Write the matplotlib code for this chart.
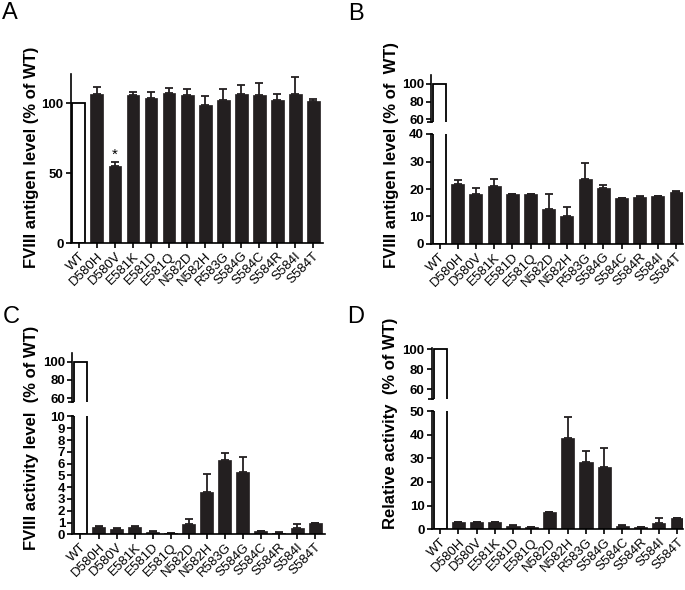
import matplotlib
matplotlib.use("Agg")
import matplotlib.pyplot as plt
import numpy as np

plt.rcParams["font.family"] = ["Liberation Sans", "DejaVu Sans"]

mutants = ["WT", "D580H", "D580V", "E581K", "E581D", "E581Q", "N582D",
           "N582H", "R583G", "S584G", "S584C", "S584R", "S584I", "S584T"]

# A: antigen level (% of WT), mean and upper error
antigen_a = [100, 106.4, 55.0, 105.8, 103.8, 107.3, 105.7, 98.6, 102.4,
             106.8, 106.2, 102.2, 106.4, 101.4]
antigen_a_err = [0, 5.3, 3.0, 2.5, 4.5, 4.0, 4.8, 6.8, 7.8,
                 6.0, 8.0, 4.3, 12.2, 1.4]

# B: antigen level (% of WT)
antigen_b = [100, 21.7, 18.0, 21.2, 18.0, 18.2, 12.8, 10.1, 23.5,
             20.4, 16.7, 17.1, 17.3, 18.8]
antigen_b_err = [0, 1.5, 2.5, 2.5, 0.1, 0.1, 5.5, 3.4, 5.9,
                 1.1, 0.1, 0.5, 0.2, 0.3]

# C: activity level (% of WT)
activity = [100, 0.66, 0.49, 0.63, 0.23, 0.11, 0.88, 3.57, 6.34,
            5.29, 0.25, 0.15, 0.52, 0.95]
activity_err = [0, 0.05, 0.03, 0.05, 0.03, 0.02, 0.38, 1.57, 0.52,
                1.25, 0.03, 0.02, 0.33, 0.05]

# D: relative activity (% of WT)
relative = [100, 3.0, 3.0, 2.9, 1.3, 0.9, 7.2, 38.6, 28.5,
            26.5, 1.3, 1.0, 2.8, 4.7]
relative_err = [0, 0, 0, 0, 0.4, 0, 0, 9.0, 4.7,
                7.8, 0.4, 0, 1.8, 0]

W, H = 685, 590
BAR = "#231f20"
WIDTH = 0.72
TICKFS = 9.5
LW = 1.2


def px(left, right, bottom, top):
    """Pixel box -> figure fraction rect."""
    return [left / W, 1 - bottom / H, (right - left) / W, (bottom - top) / H]


def draw_bars(ax, means, errs):
    x = np.arange(len(means))
    n = len(means)
    colors = ["white"] + [BAR] * (n - 1)
    ax.bar(x, means, width=WIDTH, color=colors,
           edgecolor=["black"] + [BAR] * (n - 1),
           linewidth=[1.3] + [0.5] * (n - 1))
    ax.errorbar(x[1:], means[1:], yerr=[np.zeros(n - 1), errs[1:]],
                fmt="none", ecolor=BAR, elinewidth=1.3, capsize=2.6, capthick=1.3)


def style(ax):
    for s in ["top", "right"]:
        ax.spines[s].set_visible(False)
    for s in ["left", "bottom"]:
        ax.spines[s].set_linewidth(LW)
    ax.tick_params(direction="out", length=3.5, width=LW, labelsize=TICKFS, pad=1.5)
    for lab in ax.get_yticklabels():
        lab.set_fontweight("bold")


def set_xlabels(ax):
    ax.set_xticks(np.arange(len(mutants)))
    ax.set_xticklabels(mutants, rotation=45, ha="right", va="top",
                       rotation_mode="anchor", fontsize=TICKFS)


def simple_panel(fig, rect, means, errs, ylim, yticks, xlim):
    ax = fig.add_axes(rect)
    draw_bars(ax, means, errs)
    ax.set_xlim(*xlim)
    ax.set_ylim(*ylim)
    ax.set_yticks(yticks)
    set_xlabels(ax)
    style(ax)
    return ax


def broken_panel(fig, rect_up, rect_lo, means, errs, ylim_up, ylim_lo,
                 yticks_up, yticks_lo, xlim):
    up = fig.add_axes(rect_up)
    lo = fig.add_axes(rect_lo)
    for ax in (up, lo):
        draw_bars(ax, means, errs)
        ax.set_xlim(*xlim)
    up.set_ylim(*ylim_up)
    lo.set_ylim(*ylim_lo)
    up.set_yticks(yticks_up)
    lo.set_yticks(yticks_lo)
    up.set_xticks([])
    set_xlabels(lo)
    style(up)
    style(lo)
    up.spines["bottom"].set_visible(False)
    # break caps joining the spine and the WT bar edge
    edge = -WIDTH / 2
    up.plot([xlim[0] - 0.2, edge], [ylim_up[0]] * 2, color="black", lw=LW,
            clip_on=False, solid_capstyle="butt")
    lo.plot([xlim[0], edge], [ylim_lo[1]] * 2, color="black", lw=LW,
            clip_on=False, solid_capstyle="butt")
    return up, lo


fig = plt.figure(figsize=(W / 100, H / 100), dpi=100)

# A
ax_a = simple_panel(fig, px(70.5, 323, 243, 74), antigen_a, antigen_a_err,
                    (0, 121), [0, 50, 100], (-0.47, 13.55))
ax_a.text(2, antigen_a[2] + antigen_a_err[2] + 0.5, "*", ha="center",
          va="bottom", fontsize=11)

# B
broken_panel(fig, px(431, 683, 122.3, 75), px(431, 683, 244, 134),
             antigen_b, antigen_b_err, (56.6, 110), (0, 40),
             [60, 80, 100], [0, 10, 20, 30, 40], (-0.47, 13.38))

# C
broken_panel(fig, px(72, 325, 402.3, 352.7), px(72, 325, 534.3, 416.5),
             activity, activity_err, (55.5, 109.8), (0, 10),
             [60, 80, 100], list(range(0, 11)), (-0.47, 13.55))

# D
broken_panel(fig, px(431.5, 683, 399, 348.3), px(431.5, 683, 529.3, 411),
             relative, relative_err, (50, 101), (0, 50),
             [60, 80, 100], [0, 10, 20, 30, 40, 50], (-0.47, 13.32))

# y labels
ylabels = [
    ("FVIII antigen level (% of WT)", 32, 157),
    ("FVIII antigen level (% of  WT)", 392, 155),
    ("FVIII activity level  (% of WT)", 32, 438),
    ("Relative activity  (% of WT)", 390, 423),
]
for txt, xp, yp in ylabels:
    fig.text(xp / W, 1 - yp / H, txt, rotation=90, ha="center", va="center",
             fontsize=12, fontweight="bold")

# panel letters
for letter, xp, yp in [("A", 2, 2), ("B", 348, 3), ("C", 3, 306), ("D", 347, 306)]:
    fig.text(xp / W, 1 - yp / H, letter, ha="left", va="top", fontsize=17)

fig.savefig("out.png", dpi=100)
